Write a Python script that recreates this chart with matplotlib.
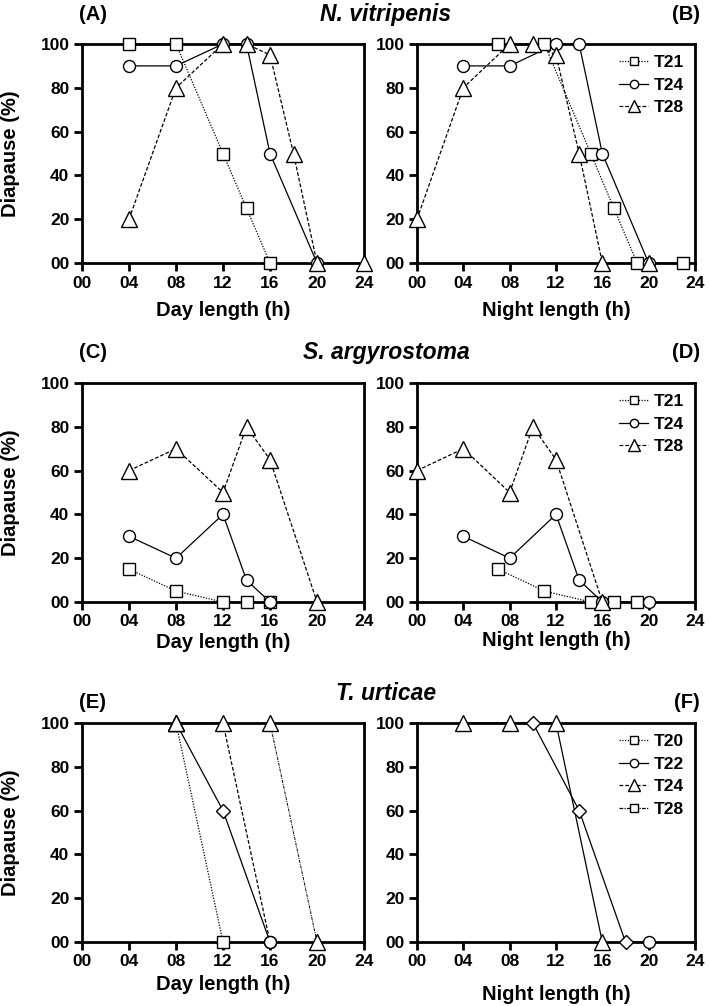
import matplotlib
matplotlib.use('Agg')
import matplotlib.pyplot as plt
from matplotlib.lines import Line2D

plt.rcParams['font.family'] = ['Liberation Sans', 'DejaVu Sans']
plt.rcParams['font.weight'] = 'bold'

# ---- data (hours, % diapause) ----
# N. vitripenis, day length
a_t21_x = [4, 8, 12, 14, 16]
a_t21_y = [100, 100, 50, 25, 0]
a_t24_x = [4, 8, 12, 14, 16, 20]
a_t24_y = [90, 90, 100, 100, 50, 0]
a_t28_x = [4, 8, 12, 14, 16, 18, 20, 24]
a_t28_y = [20, 80, 100, 100, 95, 50, 0, 0]
# N. vitripenis, night length
b_t21_x = [7, 11, 15, 17, 19, 23]
b_t21_y = [100, 100, 50, 25, 0, 0]
b_t24_x = [4, 8, 12, 14, 16, 20]
b_t24_y = [90, 90, 100, 100, 50, 0]
b_t28_x = [0, 4, 8, 10, 12, 14, 16, 20]
b_t28_y = [20, 80, 100, 100, 95, 50, 0, 0]
# S. argyrostoma, day length
c_t21_x = [4, 8, 12, 14, 16]
c_t21_y = [15, 5, 0, 0, 0]
c_t24_x = [4, 8, 12, 14, 16]
c_t24_y = [30, 20, 40, 10, 0]
c_t28_x = [4, 8, 12, 14, 16, 20]
c_t28_y = [60, 70, 50, 80, 65, 0]
# S. argyrostoma, night length
d_t21_x = [7, 11, 15, 17, 19]
d_t21_y = [15, 5, 0, 0, 0]
d_t24_x = [4, 8, 12, 14, 16, 20]
d_t24_y = [30, 20, 40, 10, 0, 0]
d_t28_x = [0, 4, 8, 10, 12, 16]
d_t28_y = [60, 70, 50, 80, 65, 0]
# T. urticae, day length
e_t20_x = [8, 12]
e_t20_y = [100, 0]
e_t22_x = [8, 12, 16]
e_t22_y = [100, 60, 0]
e_t24_x = [8, 12, 16]
e_t24_y = [100, 100, 0]
e_t28_x = [16, 20]
e_t28_y = [100, 0]
# T. urticae, night length
f_s1_x = [4, 8, 12, 16]
f_s1_y = [100, 100, 100, 0]
f_s2_x = [10, 14, 18, 20]
f_s2_y = [100, 60, 0, 0]

labels3 = ['T21', 'T24', 'T28']
labels4 = ['T20', 'T22', 'T24', 'T28']
xticks = [0, 4, 8, 12, 16, 20, 24]
xticklabels = ['00', '04', '08', '12', '16', '20', '24']
yticks = [0, 20, 40, 60, 80, 100]
yticklabels = ['00', '20', '40', '60', '80', '100']

DOT = (0, (1, 1.2))
DASH = (0, (3, 1.6))
DASHDOT = (0, (3, 1, 1, 1))
MS = {'s': 8, 'o': 8.6, '^': 11.5, 'D': 7}


def series(ax, x, y, ls, markers, lw=0.9):
    ax.plot(x, y, color='black', lw=lw, linestyle=ls, zorder=2, clip_on=False)
    for i in range(len(x)):
        m = markers[i]
        ax.plot(x[i], y[i], marker=m, ms=MS[m], mfc='white', mec='black',
                mew=1.0, ls='none', zorder=3, clip_on=False)


def style(ax, xlabel, xlab_off, ylabel=True):
    ax.set_xlim(0, 24)
    ax.set_ylim(0, 100)
    ax.set_xticks(xticks)
    ax.set_xticklabels(xticklabels)
    ax.set_yticks(yticks)
    ax.set_yticklabels(yticklabels)
    for s in ax.spines.values():
        s.set_linewidth(2.0)
    ax.tick_params(width=2.0, length=5.5, labelsize=12.5, pad=3.5)
    ax.set_xlabel(xlabel, fontsize=14.5, fontweight='bold')
    ax.xaxis.label.set_va('center')
    ax.xaxis.set_label_coords(0.5, -xlab_off / 219.0)
    if ylabel:
        ax.set_ylabel('Diapause (%)', fontsize=14.5, fontweight='bold')
        ax.yaxis.label.set_va('center')
        ax.yaxis.set_label_coords((11 - 82) / 282.0, 0.5)


def add_legend(ax, styles, labels):
    hs = [Line2D([0], [0], color='black', lw=0.9, linestyle=ls, marker=m,
                 ms=MS[m] * 0.7, mfc='white', mec='black', mew=1.0)
          for ls, m in styles]
    ax.legend(hs, labels, loc='upper right', frameon=False, fontsize=12.5,
              handlelength=1.7, handletextpad=0.3, labelspacing=0.42,
              borderaxespad=0.25)


fig = plt.figure(figsize=(7.09, 10.06), dpi=100)
W = 1006.0
lefts = [82 / 709, 417 / 709]
widths = [282 / 709, 278 / 709]
bottoms = [1 - 263 / W, 1 - 602 / W, 1 - 942 / W]
h = 219 / W

axes = []
for r in range(3):
    row = []
    for c in range(2):
        row.append(fig.add_axes([lefts[c], bottoms[r], widths[c], h]))
    axes.append(row)

# Row 1
ax = axes[0][0]
series(ax, a_t21_x, a_t21_y, DOT, 's' * len(a_t21_x))
series(ax, a_t24_x, a_t24_y, '-', 'o' * len(a_t24_x))
series(ax, a_t28_x, a_t28_y, DASH, '^' * len(a_t28_x))
style(ax, 'Day length (h)', 47)
ax = axes[0][1]
series(ax, b_t21_x, b_t21_y, DOT, 's' * len(b_t21_x))
series(ax, b_t24_x, b_t24_y, '-', 'o' * len(b_t24_x))
series(ax, b_t28_x, b_t28_y, DASH, '^' * len(b_t28_x))
style(ax, 'Night length (h)', 47, ylabel=False)
add_legend(ax, [(DOT, 's'), ('-', 'o'), (DASH, '^')], labels3)

# Row 2
ax = axes[1][0]
series(ax, c_t21_x, c_t21_y, DOT, 's' * len(c_t21_x))
series(ax, c_t24_x, c_t24_y, '-', 'o' * len(c_t24_x))
series(ax, c_t28_x, c_t28_y, DASH, '^' * len(c_t28_x))
style(ax, 'Day length (h)', 40)
ax = axes[1][1]
series(ax, d_t21_x, d_t21_y, DOT, 's' * len(d_t21_x))
series(ax, d_t24_x, d_t24_y, '-', 'o' * len(d_t24_x))
series(ax, d_t28_x, d_t28_y, DASH, '^' * len(d_t28_x))
style(ax, 'Night length (h)', 38, ylabel=False)
add_legend(ax, [(DOT, 's'), ('-', 'o'), (DASH, '^')], labels3)

# Row 3
ax = axes[2][0]
series(ax, e_t20_x, e_t20_y, DOT, '^s')
series(ax, e_t22_x, e_t22_y, '-', '^Do')
series(ax, e_t24_x, e_t24_y, DASH, '^^o')
series(ax, e_t28_x, e_t28_y, DASHDOT, '^^', lw=0.7)
style(ax, 'Day length (h)', 43)
ax = axes[2][1]
series(ax, f_s1_x, f_s1_y, '-', '^^^^')
series(ax, f_s2_x, f_s2_y, '-', 'DDDo')
style(ax, 'Night length (h)', 53, ylabel=False)
add_legend(ax, [(DOT, 's'), ('-', 'o'), (DASH, '^'), (DASHDOT, 's')], labels4)

# titles and panel letters
titles = ['N. vitripenis', 'S. argyrostoma', 'T. urticae']
title_y = [15, 352, 693]
letters = [('(A)', '(B)', 15), ('(C)', '(D)', 352), ('(E)', '(F)', 702)]
for t, ty in zip(titles, title_y):
    fig.text(386 / 709, 1 - ty / W, t, ha='center', va='center', fontsize=16.5,
             fontweight='bold', style='italic')
for la, lb, ly in letters:
    fig.text(79 / 709, 1 - ly / W, la, ha='left', va='center', fontsize=14.5,
             fontweight='bold')
    fig.text(700 / 709, 1 - ly / W, lb, ha='right', va='center', fontsize=14.5,
             fontweight='bold')

fig.savefig('out.png', dpi=100)
